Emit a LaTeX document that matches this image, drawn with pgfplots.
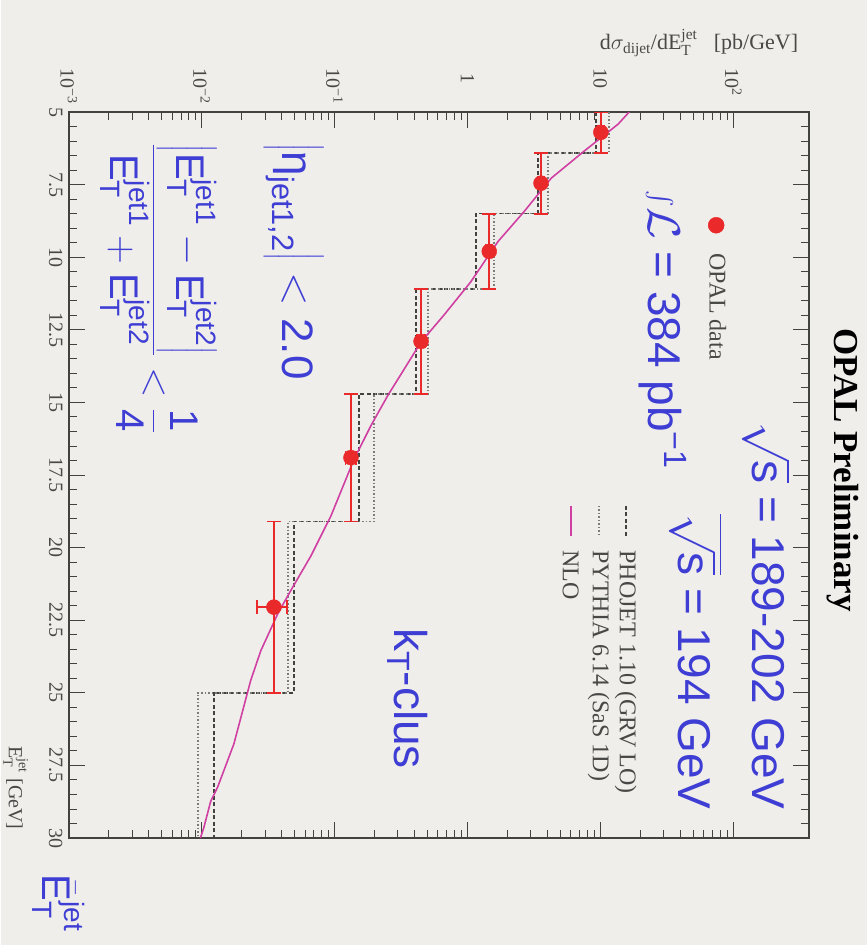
\RequirePackage{fix-cm}
\documentclass[border=0pt]{standalone}
\usepackage{amsmath}
\usepackage{fontspec}
\setmainfont{Liberation Serif}
\newfontfamily\hv{Liberation Sans}
\usepackage{pgfplots}
\pgfplotsset{compat=1.18}

\definecolor{bg}{RGB}{240,238,235}
\definecolor{opalblue}{RGB}{62,62,212}
\definecolor{datared}{RGB}{234,42,42}
\definecolor{nlo}{RGB}{208,64,162}
\definecolor{frame}{RGB}{66,66,62}
\definecolor{labelgray}{RGB}{72,72,70}

\newcommand\fs[1]{\fontsize{#1}{#1}\selectfont}
\newcommand\ET[1]{\text{E}_{\text{T}}^{\text{#1}}}
\newcommand\tl[1]{\makebox[1.9em][l]{#1}}
\newcommand\dec[1]{\tl{10\textsuperscript{#1}}}

\begin{document}
\begin{tikzpicture}
\fill[bg] (0pt,0pt) rectangle (866pt,945pt);
\begin{axis}[
  at={(68pt,107pt)}, anchor=south west,
  scale only axis, width=740pt, height=726pt,
  xmode=log, xmin=1e-3, xmax=370,
  ymin=5, ymax=30, y dir=reverse,
  axis line style={line width=1.8pt, draw=frame},
  xtick={1e-3,1e-2,1e-1,1,10,100},
  xticklabels={\dec{−3},\dec{−2},\dec{−1},\tl{\makebox[1em][c]{1}},\tl{10},\dec{2}},
  xticklabel pos=upper,
  ytick={5,7.5,...,30},
  yticklabel pos=left,
  xtick pos=both,
  tick align=inside,
  major tick length=16pt, minor tick length=8pt,
  xtick style={draw=frame, line width=1pt},
  ytick style={draw=none},
  xticklabel style={rotate=-90, anchor=east, font=\fs{20}, text=labelgray, inner sep=5pt},
  yticklabel style={rotate=-90, anchor=north, font=\fs{20}, text=labelgray, inner sep=6pt},
  /pgf/number format/assume math mode=true,
]
% E_T tick marks on both vertical frame sides (8pt minor, 16pt major)
\pgfplotsinvokeforeach{5.5,6,...,29.5}{
  \addplot[frame, line width=0.9pt, forget plot] coordinates {(0.001,#1) (0.0011488,#1)};
  \addplot[frame, line width=0.9pt, forget plot] coordinates {(370,#1) (322.1,#1)};
}
\pgfplotsinvokeforeach{7.5,10,...,27.5}{
  \addplot[frame, line width=1pt, forget plot] coordinates {(0.001,#1) (0.0013197,#1)};
  \addplot[frame, line width=1pt, forget plot] coordinates {(370,#1) (280.4,#1)};
}
% PHOJET 1.10 (GRV LO), step histogram
\addplot[frame, line width=1.7pt, dash pattern=on 4pt off 2.5pt] coordinates {
 (9.3,5) (9.3,6.4) (3.40,6.4) (3.40,8.5) (1.16,8.5) (1.16,11.1)
 (0.41,11.1) (0.41,14.7) (0.153,14.7) (0.153,19.1) (0.0494,19.1)
 (0.0494,25) (0.0124,25) (0.0124,30)};
% PYTHIA 6.14 (SaS 1D), step histogram
\addplot[frame!70, line width=1.7pt, dash pattern=on 1.5pt off 2pt] coordinates {
 (11.6,5) (11.6,6.4) (4.05,6.4) (4.05,8.5) (1.585,8.5) (1.585,11.1)
 (0.505,11.1) (0.505,14.7) (0.198,14.7) (0.198,19.1) (0.0446,19.1)
 (0.0446,25) (0.00935,25) (0.00935,30)};
% NLO prediction
\addplot[nlo, line width=1.6pt] coordinates {
 (16.5,5.0) (13.6,5.42) (7.55,6.35) (4.27,7.28) (2.67,8.43) (1.70,9.46)
 (1.06,10.85) (0.667,11.99) (0.448,12.92) (0.252,14.76) (0.188,15.8)
 (0.140,16.97) (0.094,18.91) (0.0664,20.29) (0.047,21.47) (0.0375,22.27)
 (0.0279,23.55) (0.0234,24.58) (0.0175,26.76) (0.0132,28.25)
 (0.0117,28.74) (0.0104,29.64) (0.0098,30)};
% OPAL data
\addplot[only marks, mark=*, mark size=7.5pt, color=datared,
  mark options={fill=datared, draw=datared},
  error bars/.cd, x dir=both, x explicit, y dir=both, y explicit,
  error bar style={datared, line width=1.8pt},
  error mark=-,
  error mark options={rotate=90, datared, mark size=7pt, line width=1.8pt}]
 table[x=v, y=E, x error=dv, y error minus=em, y error plus=ep, row sep=\\] {
 E v dv em ep \\
 5.7 10.1 0.5 0.7 0.7 \\
 7.45 3.58 0.2 1.05 1.05 \\
 9.8 1.46 0.08 1.3 1.3 \\
 12.9 0.448 0.03 1.8 1.8 \\
 16.9 0.133 0.012 2.2 2.2 \\
 22.05 0.035 0.0088 2.95 2.95 \\
 };
% legend samples
\addplot[only marks, mark=*, mark size=8pt, color=datared] coordinates {(74.5,8.9)};
\addplot[frame, line width=1.7pt, dash pattern=on 4pt off 2.5pt] coordinates {(15.6,18.56) (15.6,19.6)};
\addplot[frame!70, line width=1.7pt, dash pattern=on 1.5pt off 2pt] coordinates {(9.8,18.56) (9.8,19.6)};
\addplot[nlo, line width=1.6pt] coordinates {(6.03,18.56) (6.03,19.6)};
\end{axis}

% titles and annotations
\node[rotate=-90, font=\fs{35}\bfseries] at (842pt,475pt) {OPAL Preliminary};
\node[rotate=-90, anchor=east, font=\hv\fs{46}, text=opalblue] at (766pt,132pt)
  {$\sqrt{\text{s}}$ = 189-202 GeV};
\node[rotate=-90, anchor=east, font=\hv\fs{46}, text=opalblue] at (695pt,132pt)
  {$\overline{\sqrt{\text{s}}}$ = 194 GeV};
\node[rotate=-90, anchor=west, font=\hv\fs{46}, text=opalblue] at (662pt,758pt)
  {$\int\!\mathcal{L}$ = 384 pb\textsuperscript{−1}};
\node[rotate=-90, anchor=west, font=\fs{24}, text=labelgray] at (717pt,695pt) {OPAL data};
\node[rotate=-90, anchor=west, font=\fs{24}, text=labelgray] at (625pt,398pt) {PHOJET 1.10 (GRV LO)};
\node[rotate=-90, anchor=west, font=\fs{24}, text=labelgray] at (598pt,398pt) {PYTHIA 6.14 (SaS 1D)};
\node[rotate=-90, anchor=west, font=\fs{24}, text=labelgray] at (570pt,398pt) {NLO};
\node[rotate=-90, anchor=west, font=\hv\fs{46}, text=opalblue] at (407pt,320pt)
  {$\text{k}_{\text{T}}$-clus};
\node[rotate=-90, anchor=west, font=\hv\fs{44}, text=opalblue] at (293pt,805pt)
  {$\left|\text{η}_{\text{jet1,2}}\right| < \text{2.0}$};
\node[rotate=-90, anchor=west, font=\hv\fs{40}, text=opalblue] at (158pt,805pt)
  {$\dfrac{\left|\ET{jet1} - \ET{jet2}\right|}{\ET{jet1} + \ET{jet2}} < \dfrac{\text{1}}{\text{4}}$};
\node[rotate=-90, anchor=east, font=\fs{20}, text=labelgray] at (15pt,112pt)
  {$\text{E}_{\text{T}}^{\text{jet}}$ [GeV]};
\node[rotate=-90, font=\hv\fs{40}, text=opalblue] at (58pt,42pt)
  {$\bar{\text{E}}_{\text{T}}^{\text{jet}}$};
\node[anchor=base east, font=\fs{22}, text=labelgray] at (801pt,895pt)
  {d$\sigma_{\text{dijet}}$/dE$_{\text{T}}^{\text{jet}}$ \ \ [pb/GeV]};
\end{tikzpicture}
\end{document}
